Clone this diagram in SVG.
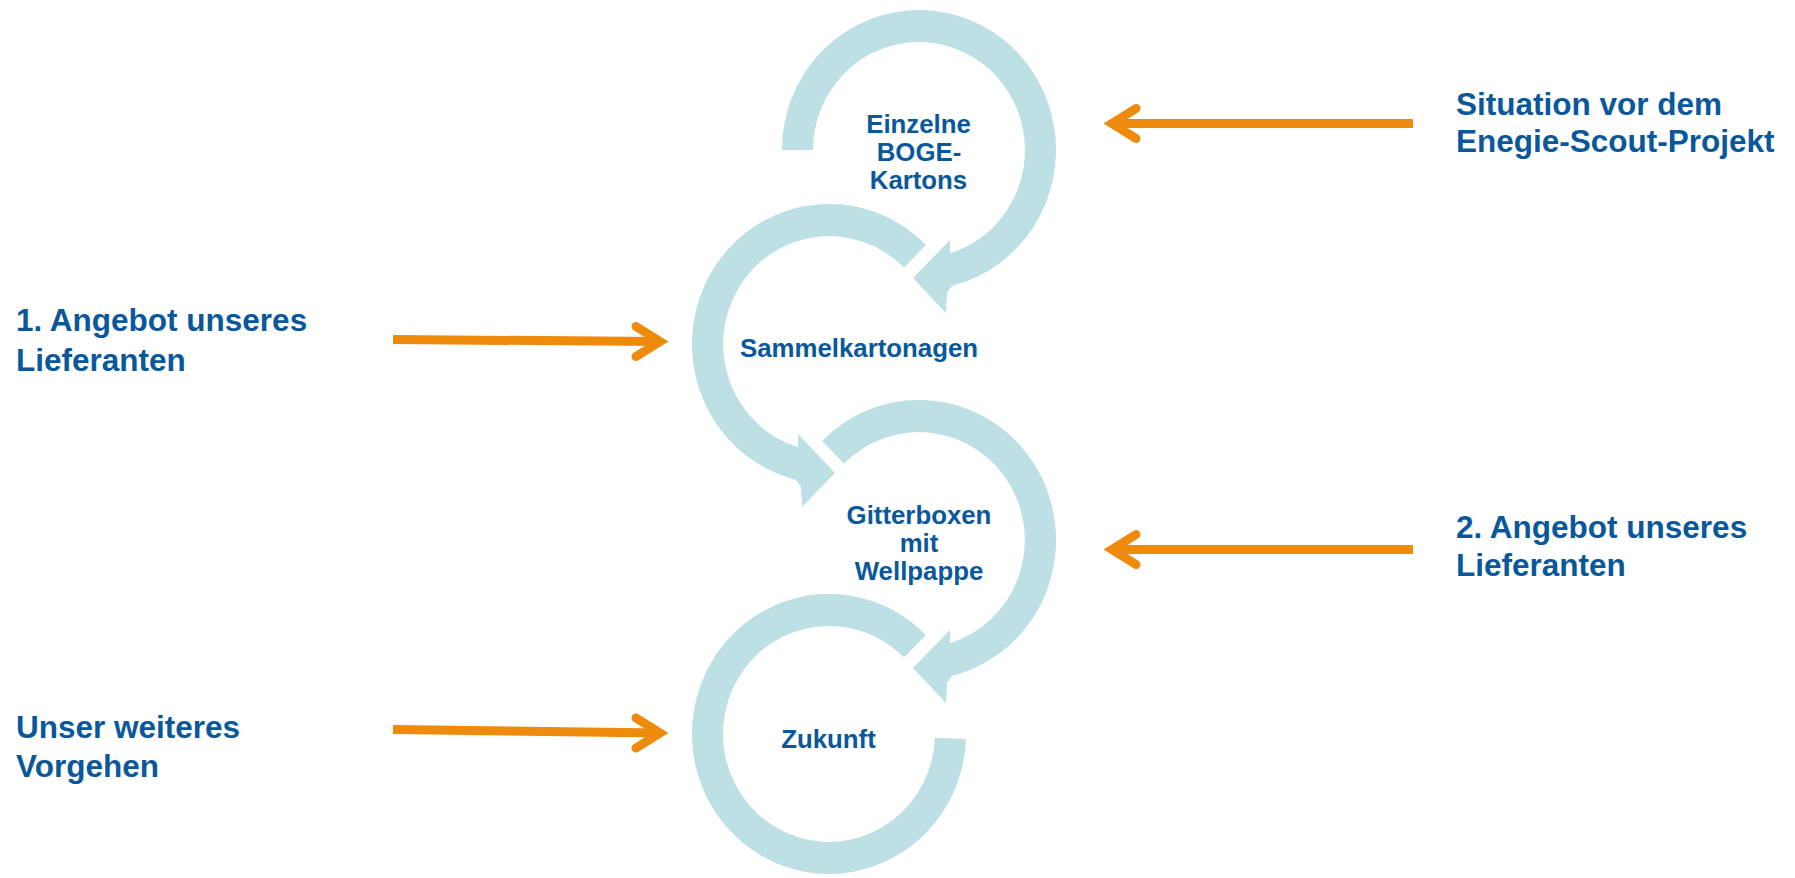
<svg xmlns="http://www.w3.org/2000/svg" width="1795" height="878" viewBox="0 0 1795 878">
<style>
.ring{fill:#BCE0E3;stroke:none}
.lbl{font-family:"Liberation Sans",Arial,sans-serif;font-weight:bold;fill:#0A589C}
.in{font-size:25.8px;text-anchor:middle}
.side{font-size:31.5px}
.shaft{fill:none;stroke:#EE8A0C;stroke-width:9;stroke-linecap:butt}
.head{fill:none;stroke:#EE8A0C;stroke-width:9;stroke-linecap:round;stroke-linejoin:miter;stroke-miterlimit:6}
</style>
<rect width="1795" height="878" fill="#FFFFFF"/>
<g id="node-einzelne">
<path class="ring" d="M 813,150 L 782,150 A 137 140 0 1 1 952.1,285.8 L 947,293 L 946,313 L 913,278 L 950,240 L 950,258 L 950,253.3 A 106 108 0 1 0 813,150 Z"/>
<text class="lbl in" x="918.5" y="133">Einzelne</text>
<text class="lbl in" x="919" y="161">BOGE-</text>
<text class="lbl in" x="918.5" y="189">Kartons</text>
</g>
<g id="node-sammel">
<path class="ring" d="M 904.0,267.6 L 925.9,245.0 A 137 140 0 1 0 795.9,479.8 L 801,487 L 802,507 L 835,473 L 798,434 L 798,452 L 798,447.3 A 106 108 0 1 1 904.0,267.6 Z"/>
<text class="lbl in" x="859" y="357">Sammelkartonagen</text>
</g>
<g id="node-gitter">
<path class="ring" d="M 844.0,463.6 L 822.1,441.0 A 137 140 0 1 1 952.1,675.8 L 947,683 L 946,703 L 913,668 L 950,630 L 950,648 L 950,643.3 A 106 108 0 1 0 844.0,463.6 Z"/>
<text class="lbl in" x="919" y="524">Gitterboxen</text>
<text class="lbl in" x="919" y="552">mit</text>
<text class="lbl in" x="919" y="580">Wellpappe</text>
</g>
<g id="node-zukunft">
<path class="ring" d="M 904.0,657.6 L 925.9,635.0 A 137 140 0 1 0 965.9,738.9 L 934.9,737.8 A 106 108 0 1 1 904.0,657.6 Z"/>
<text class="lbl in" x="828.5" y="748">Zukunft</text>
</g>
<g id="label-situation">
<text class="lbl side" x="1456" y="114.5">Situation vor dem</text>
<text class="lbl side" x="1456" y="151.5">Enegie-Scout-Projekt</text>
</g>
<g id="label-angebot1">
<text class="lbl side" x="16" y="331">1. Angebot unseres</text>
<text class="lbl side" x="16" y="370.5">Lieferanten</text>
</g>
<g id="label-angebot2">
<text class="lbl side" x="1456" y="538">2. Angebot unseres</text>
<text class="lbl side" x="1456" y="576">Lieferanten</text>
</g>
<g id="label-vorgehen">
<text class="lbl side" x="16" y="738">Unser weiteres</text>
<text class="lbl side" x="16" y="777">Vorgehen</text>
</g>
<g id="connectors">
<line class="shaft" x1="1413" y1="123.5" x2="1112" y2="123.5"/>
<polyline class="head" points="1136,108.5 1112,123.5 1136,138.5"/>
<line class="shaft" x1="393" y1="339.5" x2="660" y2="341.5"/>
<polyline class="head" points="636,326.5 660,341.5 636,356.5"/>
<line class="shaft" x1="1413" y1="549.5" x2="1112" y2="549.5"/>
<polyline class="head" points="1136,534.5 1112,549.5 1136,564.5"/>
<line class="shaft" x1="393" y1="729.5" x2="660" y2="733"/>
<polyline class="head" points="636,718 660,733 636,748"/>
</g>
</svg>
